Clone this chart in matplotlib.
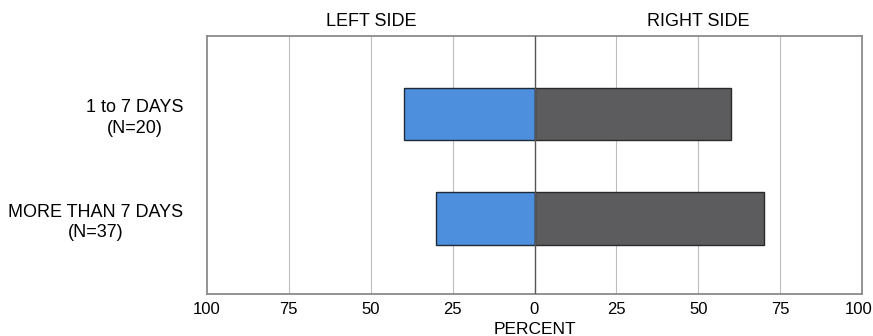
import matplotlib
matplotlib.use("Agg")
import matplotlib.pyplot as plt
from matplotlib.transforms import blended_transform_factory, ScaledTranslation

plt.rcParams['font.family'] = ['Liberation Sans', 'DejaVu Sans']

categories = ["1 to 7 DAYS\n(N=20)", "MORE THAN 7 DAYS\n(N=37)"]
left_side = [40, 30]
right_side = [60, 70]
tick_values = [-100, -75, -50, -25, 0, 25, 50, 75, 100]
tick_labels = ["100", "75", "50", "25", "0", "25", "50", "75", "100"]

fig = plt.figure(figsize=(8.73, 3.36), dpi=100)
ax = fig.add_axes([207/873, 1-294/336, (862-207)/873, (294-36)/336])

ypos = [1, 0]
ax.barh(ypos, [-v for v in left_side], height=0.5, color='#4d8fdc',
        edgecolor='#1e2a3a', linewidth=1.0, zorder=3)
ax.barh(ypos, right_side, height=0.5, color='#5c5c5e',
        edgecolor='#2a2a2a', linewidth=1.0, zorder=3)

ax.set_xlim(-100, 100)
ax.set_ylim(-0.722, 1.746)

for v in tick_values[1:-1]:
    if v == 0:
        ax.axvline(v, color='#555555', linewidth=1.0, zorder=4)
    else:
        ax.axvline(v, color='#bdbdbd', linewidth=0.8, zorder=1)

ax.set_xticks(tick_values)
ax.set_xticklabels(tick_labels, fontsize=12)
ax.tick_params(axis='x', length=0, pad=6)
ax.set_xlabel("PERCENT", fontsize=12.5, labelpad=3)
last = ax.get_xticklabels()[-1]
last.set_transform(last.get_transform() + ScaledTranslation(-3/100, 0, fig.dpi_scale_trans))

ax.set_yticks(ypos)
ax.set_yticklabels(categories, fontsize=13, linespacing=1.3)
for t in ax.get_yticklabels():
    t.set_multialignment('center')
ax.tick_params(axis='y', length=0, pad=17)

for s in ax.spines.values():
    s.set_color('#8a8a8a')
    s.set_linewidth(1.3)

trans = blended_transform_factory(ax.transData, ax.transAxes)
ax.text(-50, 1.0 + 14/258, "LEFT SIDE", transform=trans, ha='center', va='center', fontsize=13)
ax.text(50, 1.0 + 14/258, "RIGHT SIDE", transform=trans, ha='center', va='center', fontsize=13)

fig.savefig("out.png", dpi=100)
